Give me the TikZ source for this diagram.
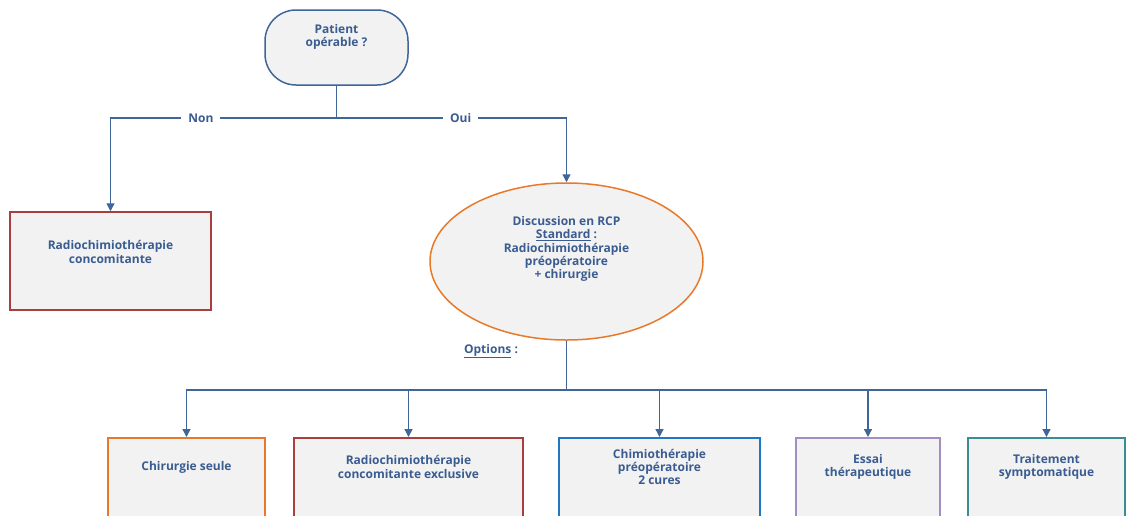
\documentclass[tikz,border=0pt]{standalone}
\usepackage{fontspec}
\setmainfont{Open Sans}
\usepackage{tikz}
\usetikzlibrary{arrows.meta,shapes.geometric,positioning,calc}
\definecolor{bleu}{HTML}{3F6698}
\definecolor{texte}{HTML}{3A5C91}
\definecolor{fond}{HTML}{F2F2F2}
\definecolor{orangeb}{HTML}{E8792B}
\definecolor{rougeb}{HTML}{A6403F}
\definecolor{bleub}{HTML}{1F78C1}
\definecolor{violetb}{HTML}{A38DC1}
\definecolor{vertb}{HTML}{3C8D93}
\begin{document}
\begin{tikzpicture}[x=1pt,y=-1pt,
  every node/.style={font=\bfseries\fontsize{12}{13.3}\selectfont, text=texte, align=center},
  boite/.style={draw, fill=fond, line width=1.5pt, inner sep=0pt},
  trait/.style={bleu, line width=1.3pt},
  fleche/.style={trait, -{Triangle[width=8pt,length=8pt]}}]
\useasboundingbox (0,0) rectangle (1127,515);
\clip (0,0) rectangle (1127,515);

% question de depart
\node[boite, draw=bleu, rounded corners=31pt, minimum width=143pt, minimum height=75pt] (patient) at (336.5,47.5) {};
\node (patient-txt) at (336.5,37) {Patient\\opérable ?};
\coordinate (fourche) at (336.5,118);

% non : radiochimiotherapie
\node[boite, draw=rougeb, minimum width=201pt, minimum height=98pt] (radio) at (110.5,261) {};
\node (radio-txt) at (110.5,252) {Radiochimiothérapie\\concomitante};

% oui : discussion en RCP
\node[boite, ellipse, draw=orangeb, minimum width=273pt, minimum height=157pt] (rcp) at (566.5,261.5) {};
\node (rcp-txt) at (566.5,249) {Discussion en RCP\\\underline{Standard} :\\Radiochimiothérapie\\préopératoire\\+ chirurgie};
\node (options) at (491,351) {\underline{Options} :};
\coordinate (noeud) at (566.5,390);

\draw[trait] (patient.south) -- (fourche);
\draw[fleche] (fourche) -| node[pos=0.3, fill=white, inner xsep=7pt] {Non} (radio.north);
\draw[fleche] (fourche) -| node[pos=0.27, fill=white, inner xsep=7pt] {Oui} (rcp.north);
\draw[trait] (rcp.south) -- (noeud);

% options
\foreach \n/\x/\w/\c/\t in {
  chir/186.5/157/orangeb/{Chirurgie seule},
  excl/408.5/229/rougeb/{Radiochimiothérapie\\concomitante exclusive},
  chimio/659.5/201/bleub/{Chimiothérapie\\préopératoire\\2 cures},
  essai/868/144/violetb/{Essai\\thérapeutique},
  sympt/1046.5/157/vertb/{Traitement\\symptomatique}} {
  \node[boite, draw=\c, minimum width=\w pt, minimum height=98pt, anchor=north] (\n) at (\x,437) {};
  \node (\n-txt) at ([yshift=-30pt]\n.north) {\t};
  \draw[fleche] (noeud) -| (\n.north);
}
\end{tikzpicture}
\end{document}
